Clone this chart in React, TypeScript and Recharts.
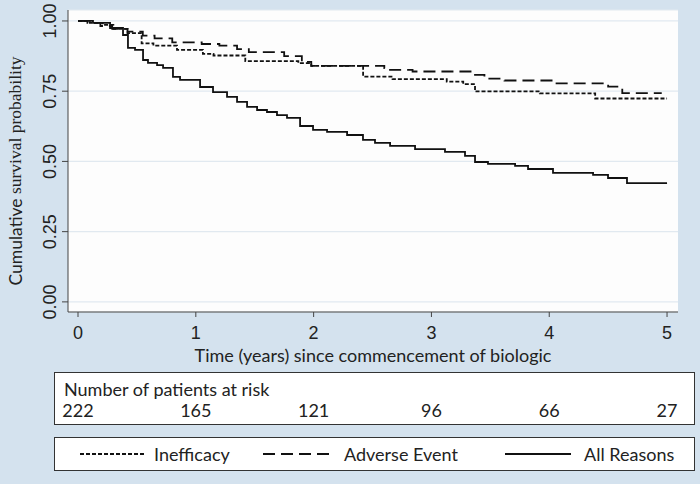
import { LineChart, Line, XAxis, YAxis, CartesianGrid } from "recharts";

// time axis (years) and patients at risk below it
const years = [0, 1, 2, 3, 4, 5];
const atRisk = [222, 165, 121, 96, 66, 27];
const survTicks = [0, 0.25, 0.5, 0.75, 1];

// Kaplan-Meier steps: t = years, s = survival
const inefficacy = [
  { t: 0, s: 1 },
  { t: 0.1, s: 0.993 },
  { t: 0.21, s: 0.986 },
  { t: 0.3, s: 0.972 },
  { t: 0.42, s: 0.957 },
  { t: 0.54, s: 0.92 },
  { t: 0.64, s: 0.912 },
  { t: 0.84, s: 0.897 },
  { t: 1.06, s: 0.883 },
  { t: 1.15, s: 0.877 },
  { t: 1.42, s: 0.857 },
  { t: 1.87, s: 0.85 },
  { t: 1.98, s: 0.84 },
  { t: 2.42, s: 0.802 },
  { t: 2.67, s: 0.793 },
  { t: 3.13, s: 0.784 },
  { t: 3.27, s: 0.775 },
  { t: 3.37, s: 0.749 },
  { t: 3.92, s: 0.742 },
  { t: 4.39, s: 0.724 },
  { t: 5.0, s: 0.724 },
];

const adverseEvent = [
  { t: 0, s: 1 },
  { t: 0.08, s: 0.993 },
  { t: 0.19, s: 0.982 },
  { t: 0.29, s: 0.972 },
  { t: 0.42, s: 0.962 },
  { t: 0.55, s: 0.948 },
  { t: 0.65, s: 0.938 },
  { t: 0.8, s: 0.924 },
  { t: 1.05, s: 0.918 },
  { t: 1.2, s: 0.912 },
  { t: 1.35, s: 0.9 },
  { t: 1.45, s: 0.889 },
  { t: 1.75, s: 0.875 },
  { t: 1.9, s: 0.854 },
  { t: 1.98, s: 0.84 },
  { t: 2.6, s: 0.832 },
  { t: 2.63, s: 0.826 },
  { t: 2.84, s: 0.82 },
  { t: 3.37, s: 0.808 },
  { t: 3.45, s: 0.795 },
  { t: 3.62, s: 0.788 },
  { t: 4.02, s: 0.778 },
  { t: 4.5, s: 0.766 },
  { t: 4.62, s: 0.743 },
  { t: 4.955, s: 0.743 },
];

const allReasons = [
  { t: 0, s: 1 },
  { t: 0.127, s: 0.993 },
  { t: 0.272, s: 0.975 },
  { t: 0.382, s: 0.95 },
  { t: 0.424, s: 0.904 },
  { t: 0.484, s: 0.897 },
  { t: 0.552, s: 0.861 },
  { t: 0.594, s: 0.851 },
  { t: 0.671, s: 0.843 },
  { t: 0.722, s: 0.833 },
  { t: 0.806, s: 0.801 },
  { t: 0.866, s: 0.79 },
  { t: 1.036, s: 0.765 },
  { t: 1.146, s: 0.747 },
  { t: 1.265, s: 0.73 },
  { t: 1.35, s: 0.712 },
  { t: 1.435, s: 0.694 },
  { t: 1.52, s: 0.683 },
  { t: 1.604, s: 0.676 },
  { t: 1.689, s: 0.665 },
  { t: 1.774, s: 0.655 },
  { t: 1.885, s: 0.626 },
  { t: 1.995, s: 0.612 },
  { t: 2.114, s: 0.605 },
  { t: 2.284, s: 0.594 },
  { t: 2.419, s: 0.577 },
  { t: 2.521, s: 0.566 },
  { t: 2.649, s: 0.555 },
  { t: 2.861, s: 0.544 },
  { t: 3.115, s: 0.534 },
  { t: 3.285, s: 0.52 },
  { t: 3.37, s: 0.498 },
  { t: 3.48, s: 0.491 },
  { t: 3.71, s: 0.484 },
  { t: 3.82, s: 0.473 },
  { t: 4.032, s: 0.459 },
  { t: 4.372, s: 0.452 },
  { t: 4.499, s: 0.441 },
  { t: 4.66, s: 0.423 },
  { t: 5.0, s: 0.423 },
];

const seriesNames = ["Inefficacy", "Adverse Event", "All Reasons"];
const seriesData = [inefficacy, adverseEvent, allReasons];
const dashes = ["4 2", "12 6", undefined];

// legend item positions inside the legend box
const legendSampleLeft = [25, 208, 450];
const legendTextLeft = [99, 289, 529];

const BG = "#d4e2ee";
const SANS = "Lato, 'Open Sans', sans-serif";

const YTick = ({ x, y, payload }: any) => (
  <text
    x={x}
    y={y}
    transform={`rotate(-90 ${x} ${y})`}
    textAnchor="middle"
    dominantBaseline="central"
    fontFamily="'Liberation Sans', Arial, sans-serif"
    fontSize={18}
    fill="#222"
  >
    {Number(payload.value).toFixed(2)}
  </text>
);

const YTitle = () => {
  const cx = 15;
  const cy = 171;
  return (
    <text
      x={cx}
      y={cy}
      transform={`rotate(-90 ${cx} ${cy})`}
      textAnchor="middle"
      dominantBaseline="central"
      fill="#222"
      fontSize={17.5}
    >
      <tspan fontFamily={SANS}>Cumulative </tspan>
      <tspan fontFamily="'Liberation Serif', 'Times New Roman', serif">survival probability</tspan>
    </text>
  );
};

export default function App() {
  return (
    <div style={{ position: "relative", width: 700, height: 484, background: BG, overflow: "hidden" }}>
      <style>{`body{margin:0}`}</style>

      {/* risk table box */}
      <div
        style={{
          position: "absolute",
          left: 54,
          top: 372,
          width: 641,
          height: 53,
          background: "#fff",
          border: "1.5px solid #333",
          boxSizing: "border-box",
          zIndex: 0,
        }}
      >
        <div
          style={{
            position: "absolute",
            left: 9,
            top: 5,
            fontFamily: SANS,
            fontSize: 18,
            color: "#222",
          }}
        >
          Number of patients at risk
        </div>
      </div>

      {/* legend box */}
      <div
        style={{
          position: "absolute",
          left: 54,
          top: 437,
          width: 641,
          height: 34,
          background: "#fff",
          border: "1.5px solid #333",
          boxSizing: "border-box",
          zIndex: 0,
        }}
      >
        {seriesNames.map((name, i) => (
          <div key={name}>
            <svg
              width={66}
              height={6}
              style={{ position: "absolute", left: legendSampleLeft[i], top: 13 }}
            >
              <line x1={0} y1={3} x2={66} y2={3} stroke="#111" strokeWidth={1.8} strokeDasharray={dashes[i]} />
            </svg>
            <div
              style={{
                position: "absolute",
                left: legendTextLeft[i],
                top: 5,
                fontFamily: SANS,
                fontSize: 18,
                color: "#222",
                whiteSpace: "nowrap",
              }}
            >
              {name}
            </div>
          </div>
        ))}
      </div>

      <div style={{ position: "absolute", left: 0, top: 0, zIndex: 1 }}>
        <LineChart width={700} height={484} margin={{ top: 10, right: 22, left: 0, bottom: 58 }}>
          <CartesianGrid vertical={false} fill="#fdfdfd" stroke="#e1e9f0" strokeWidth={1.2} />
          <XAxis
            dataKey="t"
            type="number"
            domain={[-0.085, 5.093]}
            ticks={years}
            allowDataOverflow
            height={56}
            tickSize={5}
            tickMargin={9}
            stroke="#444"
            tick={{ fontFamily: "'Liberation Sans', Arial, sans-serif", fontSize: 18, fill: "#222" }}
            label={{
              value: "Time (years) since commencement of biologic",
              position: "insideBottom",
              offset: 6,
              style: { fontFamily: SANS, fontSize: 18, fill: "#222" },
            }}
          />
          <XAxis
            xAxisId="risk"
            dataKey="t"
            type="number"
            domain={[-0.085, 5.093]}
            ticks={years}
            allowDataOverflow
            height={58}
            axisLine={false}
            tickLine={false}
            tickSize={0}
            tickMargin={36}
            tickFormatter={(v: number) => String(atRisk[years.indexOf(v)] ?? "")}
            tick={{ fontFamily: SANS, fontSize: 18, fill: "#222" }}
          />
          <YAxis
            type="number"
            domain={[-0.036, 1.039]}
            ticks={survTicks}
            allowDataOverflow
            width={68}
            tickSize={6}
            tickMargin={12}
            stroke="#444"
            tick={<YTick />}
            label={<YTitle />}
          />
          {seriesData.map((d, i) => (
            <Line
              key={seriesNames[i]}
              data={d}
              dataKey="s"
              name={seriesNames[i]}
              type="stepAfter"
              stroke="#111"
              strokeWidth={1.8}
              strokeDasharray={dashes[i]}
              dot={false}
              isAnimationActive={false}
            />
          ))}
        </LineChart>
      </div>
    </div>
  );
}
